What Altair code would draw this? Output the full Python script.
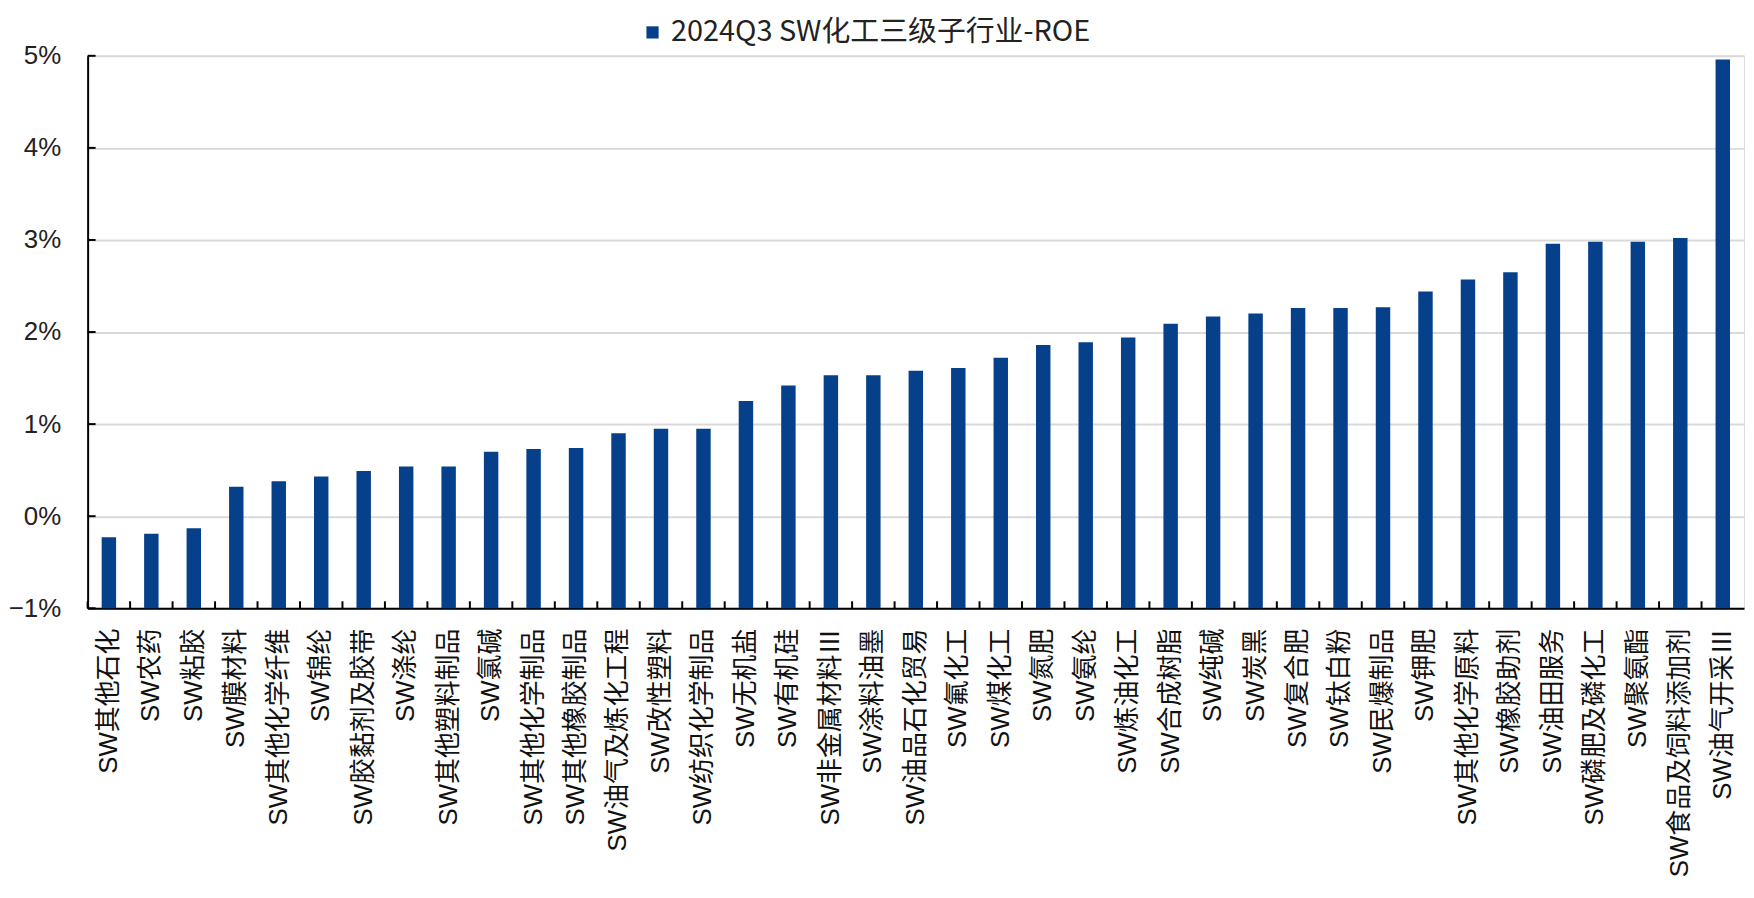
import altair as alt
import pandas as pd

# ---- data ----
categories = [
    "SW其他石化", "SW农药", "SW粘胶", "SW膜材料", "SW其他化学纤维", "SW锦纶",
    "SW胶黏剂及胶带", "SW涤纶", "SW其他塑料制品", "SW氯碱", "SW其他化学制品",
    "SW其他橡胶制品", "SW油气及炼化工程", "SW改性塑料", "SW纺织化学制品",
    "SW无机盐", "SW有机硅", "SW非金属材料Ⅲ", "SW涂料油墨", "SW油品石化贸易",
    "SW氟化工", "SW煤化工", "SW氮肥", "SW氨纶", "SW炼油化工", "SW合成树脂",
    "SW纯碱", "SW炭黑", "SW复合肥", "SW钛白粉", "SW民爆制品", "SW钾肥",
    "SW其他化学原料", "SW橡胶助剂", "SW油田服务", "SW磷肥及磷化工", "SW聚氨酯",
    "SW食品及饲料添加剂", "SW油气开采Ⅲ",
]
roe_pct = [
    -0.23, -0.19, -0.13, 0.32, 0.38, 0.43, 0.49, 0.54, 0.54, 0.70, 0.73, 0.74,
    0.90, 0.95, 0.95, 1.25, 1.42, 1.53, 1.53, 1.58, 1.61, 1.72, 1.86, 1.89,
    1.94, 2.09, 2.17, 2.20, 2.26, 2.26, 2.27, 2.44, 2.57, 2.65, 2.96, 2.98,
    2.98, 3.02, 4.96,
]
series_name = "2024Q3 SW化工三级子行业-ROE"
y_ticks_pct = [-1, 0, 1, 2, 3, 4, 5]

df = pd.DataFrame({
    "cat": categories,
    "roe": [v / 100 for v in roe_pct],
    "series": series_name,
})
tick_df = pd.DataFrame({"t": [v / 100 for v in y_ticks_pct]})

# ---- layout / style ----
W, H = 1664, 555
BAR_COLOR = "#063F8A"
step = W / len(categories)
yscale = alt.Scale(domain=[-0.01, 0.05], nice=False, zero=False)
xscale = alt.Scale(paddingInner=0.66, paddingOuter=0.33)

bars = alt.Chart(df).mark_bar().encode(
    x=alt.X(
        "cat:N", sort=categories, scale=xscale,
        axis=alt.Axis(
            title=None, labelAngle=270, labelFontSize=26,
            labelFont="Liberation Sans, Noto Sans CJK SC", labelColor="#111",
            labelPadding=20, labelLimit=400, labelOverlap=False,
            ticks=False, domainColor="black", domainWidth=2, grid=False,
        ),
    ),
    y=alt.Y(
        "roe:Q", scale=yscale,
        axis=alt.Axis(
            title=None, values=[v / 100 for v in y_ticks_pct], format=".0%",
            labelFontSize=26, labelFont="Liberation Sans", labelColor="#222",
            labelPadding=27, ticks=False, domainColor="black", domainWidth=2,
            grid=True, gridColor="#D9D9D9", gridWidth=2,
        ),
    ),
    y2=alt.datum(-0.01),
    color=alt.Color(
        "series:N",
        scale=alt.Scale(range=[BAR_COLOR]),
        legend=alt.Legend(
            title=None, orient="none", legendX=553, legendY=-38,
            symbolType="square", symbolSize=150, symbolStrokeWidth=0,
            labelFontSize=29, labelFont="Noto Sans CJK SC", labelColor="#222",
            labelLimit=900,
        ),
    ),
)

y_ticks = alt.Chart(tick_df).mark_rule(color="black", strokeWidth=2).encode(
    y=alt.Y("t:Q", scale=yscale, title=None),
    x=alt.value(0),
    x2=alt.value(8),
)

x_ticks = alt.Chart(df).mark_rule(
    color="black", strokeWidth=2, xOffset=-step / 2
).encode(
    x=alt.X("cat:N", sort=categories, title=None),
    y=alt.value(H - 7),
    y2=alt.value(H),
)

chart = alt.layer(bars, y_ticks, x_ticks).properties(
    width=W,
    height=H,
    autosize=alt.AutoSizeParams(type="none"),
    padding={"left": 80, "top": 46, "right": 2, "bottom": 280},
).configure_view(stroke=None).configure(background="white")

chart.save("out.html", embed_options={"renderer": "svg", "actions": False})
